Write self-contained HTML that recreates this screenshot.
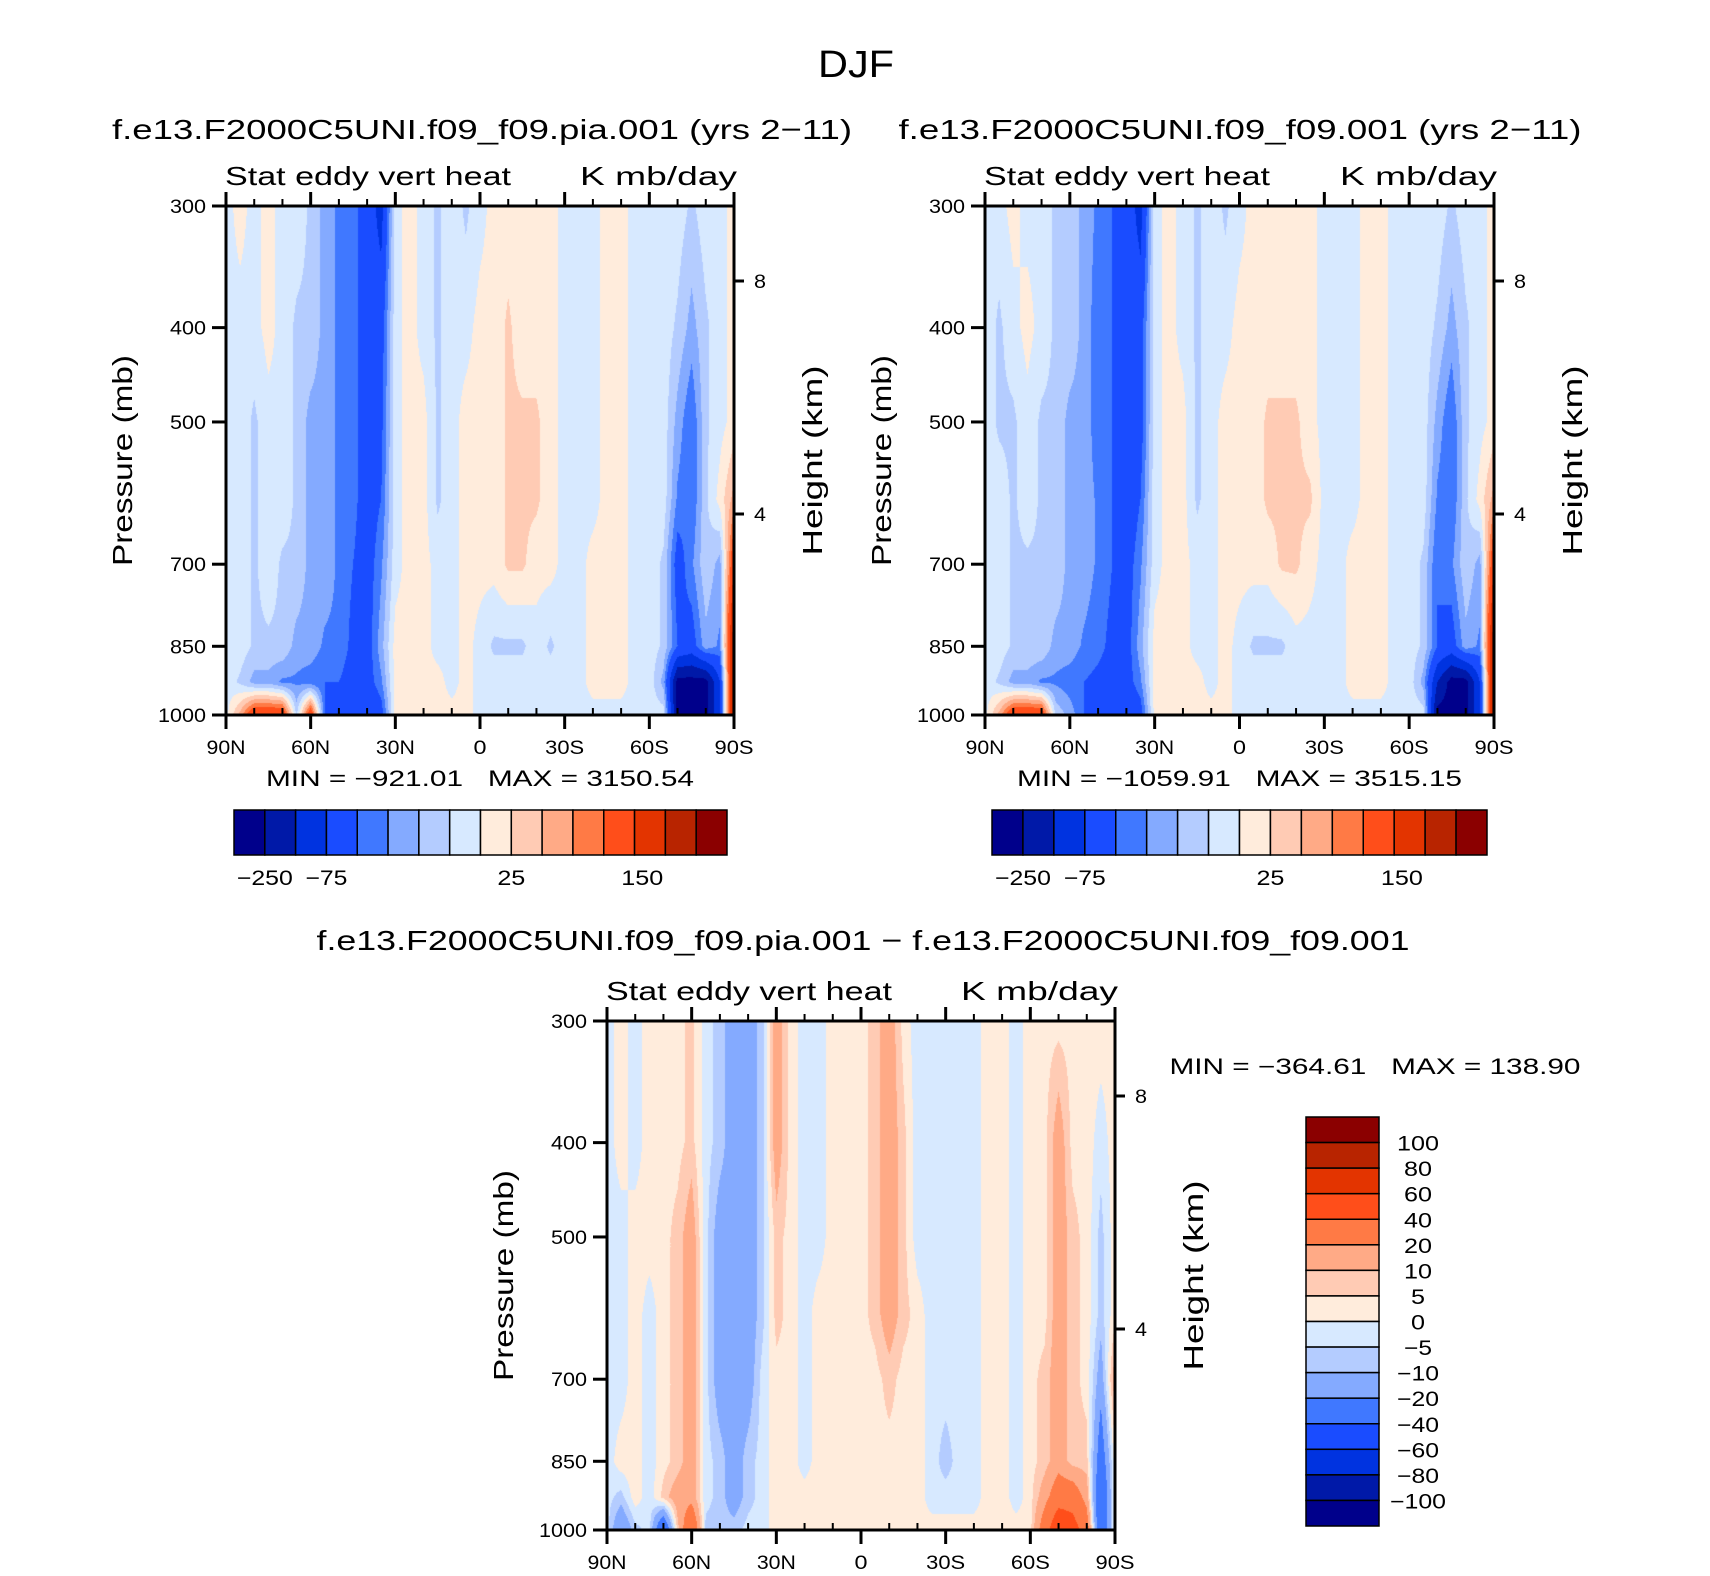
<!DOCTYPE html>
<html><head><meta charset="utf-8">
<style>
body{margin:0;background:#fff;}
#root{position:relative;width:1710px;height:1576px;overflow:hidden;background:#fff;font-family:"Liberation Sans",sans-serif;color:#000;}
canvas{position:absolute;}
svg{position:absolute;left:0;top:0;}
</style></head><body>
<div id="root">
<canvas id="c1"></canvas>
<canvas id="c2"></canvas>
<canvas id="c3"></canvas>
<svg id="ov" width="1710" height="1576"></svg>
</div>
<script>
const lats = [90,85,80,75,70,65,60,55,50,45,40,35,30,25,20,15,10,5,0,-5,-10,-15,-20,-25,-30,-35,-40,-45,-50,-55,-60,-65,-70,-75,-80,-85,-90];
const pLevels = [300,400,500,600,700,850,925,1000];
const levels1 = [-250,-200,-150,-100,-75,-50,-25,0,25,50,75,100,150,200,250];
const levels3 = [-100,-80,-60,-40,-20,-10,-5,0,5,10,20,40,60,80,100];
const colors = ["#00008b","#0019a8","#0033e0","#1a4cff","#4078ff","#84aaff","#b4ccff","#d7e9ff","#ffecdc","#ffcbb4","#ffaa86","#ff7a45","#ff4e1a","#e33400","#b82400","#8b0000"];
const cbLabels1 = ["−250","−75","25","150"];
const cbLabelIdx1 = [1,3,9,13.25];
const cbLabels3 = ["100","80","60","40","20","10","5","0","−5","−10","−20","−40","−60","−80","−100"];
const xTickLabels = ["90N","60N","30N","0","30S","60S","90S"];
const xTickLats = [90,60,30,0,-30,-60,-90];
const pTicks = [300,400,500,700,850,1000];
const hTicks = [8,4];
const minmax1 = "MIN = −921.01   MAX = 3150.54";
const minmax2 = "MIN = −1059.91   MAX = 3515.15";
const minmax3 = "MIN = −364.61   MAX = 138.90";

const field1 = [
[-10,10,-10,10,-10,-10,-30,-60,-80,-90,-120,-170,-10,10,-10,-30,-10,-30,-10,10,10,10,10,10,-10,-10,-10,10,10,-10,-10,-10,-10,-30,-10,-10,10],
[-10,-10,-10,10,-10,-30,-30,-60,-80,-90,-120,-120,-10,10,-10,-30,-10,-10,10,10,30,10,10,10,-10,-10,-10,10,10,-10,-10,-10,-30,-60,-30,-10,10],
[-10,-10,-30,-10,-10,-30,-60,-60,-80,-90,-120,-110,-10,10,10,-30,-10,10,10,10,30,30,30,10,-10,-10,-10,10,10,-10,-10,-10,-60,-100,-30,-10,10],
[-10,-10,-30,-10,-10,-30,-60,-60,-80,-90,-120,-100,-10,10,10,-30,-10,10,10,10,30,30,30,10,-10,-10,-10,10,10,-10,-10,-10,-80,-100,-30,10,60],
[-10,-10,-30,-10,-30,-30,-60,-60,-80,-100,-120,-80,-10,10,10,-10,-10,10,10,10,30,30,10,10,-10,-10,10,10,10,-10,-10,-30,-120,-80,-30,-60,150],
[-10,-10,-30,-30,-30,-60,-60,-80,-80,-110,-120,-60,10,10,10,-10,-10,10,-10,-30,-30,-30,-10,-30,-10,-10,10,10,10,-10,-10,-30,-100,-120,-60,-80,250],
[-10,-30,-60,-60,-80,-80,-90,-100,-100,-120,-120,-80,10,10,10,10,-10,10,-10,-10,-10,-10,-10,-10,-10,-10,10,10,10,-10,-10,-60,-270,-270,-270,-150,250],
[-10,60,150,150,150,-30,150,-100,-120,-150,-150,-120,10,10,10,10,10,10,-10,-10,-10,-10,-10,-10,-10,-10,-10,-10,-10,-10,-10,-10,-270,-270,-270,-150,250]
];
const field2 = [
[-10,-10,10,-10,-10,-30,-30,-60,-80,-100,-120,-170,-10,10,-10,-30,-10,-30,-10,10,10,10,10,10,-10,-10,-10,10,10,-10,-10,-10,-10,-30,-10,-10,10],
[-10,-30,-10,10,-10,-30,-30,-60,-90,-100,-120,-120,-10,10,-10,-30,-10,-10,10,10,10,10,10,10,-10,-10,-10,10,10,-10,-10,-10,-30,-60,-30,-10,10],
[-10,-30,-30,-10,-30,-30,-60,-60,-90,-100,-130,-120,-10,10,10,-30,-10,10,10,10,30,30,30,10,-10,-10,-10,10,10,-10,-10,-10,-60,-100,-30,-10,10],
[-10,-10,-30,-10,-30,-30,-60,-60,-80,-100,-130,-100,-10,10,10,-30,-10,10,10,10,30,30,30,30,-10,-10,-10,10,10,-10,-10,-10,-80,-100,-30,10,60],
[-10,-10,-30,-30,-30,-30,-60,-60,-80,-100,-120,-80,-10,10,10,-10,-10,10,10,10,10,30,30,10,-10,-10,10,10,10,-10,-10,-30,-100,-80,-30,-60,150],
[-10,-10,-30,-30,-30,-60,-60,-80,-90,-110,-120,-60,10,10,10,-10,-10,10,-10,-30,-30,-30,-10,-10,-10,-10,10,10,10,-10,-10,-30,-100,-120,-60,-80,250],
[-10,-30,-60,-60,-80,-80,-90,-100,-110,-120,-120,-80,10,10,10,10,-10,10,-10,-10,-10,-10,-10,-10,-10,-10,10,10,10,-10,-10,-60,-200,-270,-270,-150,250],
[-10,60,150,150,150,-30,-60,-100,-120,-150,-150,-120,10,10,10,10,10,10,-10,-10,-10,-10,-10,-10,-10,-10,-10,-10,-10,-10,-10,-10,-270,-270,-270,-150,250]
];
const field3 = [
[-3,3,-3,3,3,3,7,-3,-7,-15,-15,-7,15,3,-3,-3,3,3,3,7,15,3,-3,-3,-3,-3,-3,3,3,-3,3,3,3,3,3,3,3],
[-3,3,-3,3,3,3,7,-3,-7,-15,-15,-7,15,3,-3,-3,3,3,3,7,15,7,-3,-3,-3,-3,-3,3,3,-3,3,3,15,3,3,-3,3],
[-3,-3,3,3,3,7,15,-3,-15,-15,-15,-7,7,3,-3,-3,3,3,3,7,15,7,-3,-3,-3,-3,-3,3,3,-3,3,3,15,7,3,-7,3],
[-3,-3,3,-3,3,7,15,-3,-15,-15,-15,-7,7,3,-3,3,3,3,3,7,15,7,3,-3,-3,-3,-3,3,3,-3,3,3,15,7,3,-7,3],
[-3,-3,3,-3,3,7,15,-3,-15,-15,-15,-3,3,3,-3,3,3,3,3,3,7,3,3,-3,-3,-3,-3,3,3,-3,3,7,15,7,3,-15,15],
[-3,3,3,-3,3,7,15,-3,-7,-15,-7,-3,3,3,-3,3,3,3,3,3,3,3,3,-3,-7,-3,-3,3,3,-3,3,7,15,7,7,-30,3],
[-3,-7,3,-3,7,15,15,-3,-7,-15,-7,-3,3,3,3,3,3,3,3,3,3,3,3,-3,-3,-3,-3,3,3,-3,3,15,30,30,15,-40,3],
[-3,-20,-7,-3,-40,7,40,-7,-7,-7,-3,-3,3,3,3,3,3,3,3,3,3,3,3,3,3,3,3,3,3,3,3,30,60,50,30,-40,3]
];

const panels = [
 {id:'c1', x0:226, x1:734, y0:206, y1:715, field:field1, levels:levels1},
 {id:'c2', x0:985, x1:1494, y0:206, y1:715, field:field2, levels:levels1},
 {id:'c3', x0:607, x1:1115, y0:1021, y1:1530, field:field3, levels:levels3}
];
function hex(c){return [parseInt(c.slice(1,3),16),parseInt(c.slice(3,5),16),parseInt(c.slice(5,7),16)];}
const rgb = colors.map(hex);
const lnP = pLevels.map(Math.log);
const L0=Math.log(300), L1=Math.log(1000);
function xOf(P,lat){return P.x0+(90-lat)/180*(P.x1-P.x0);}
function yOf(P,p){return P.y0+(Math.log(p)-L0)/(L1-L0)*(P.y1-P.y0);}

panels.forEach(P=>{
  const cv=document.getElementById(P.id);
  const W=Math.round(P.x1-P.x0), H=Math.round(P.y1-P.y0);
  cv.width=W; cv.height=H; cv.style.left=P.x0+'px'; cv.style.top=P.y0+'px';
  const ctx=cv.getContext('2d'); const img=ctx.createImageData(W,H);
  const nL=lats.length;
  for(let j=0;j<H;j++){
    const lp=L0+(j+0.5)/H*(L1-L0);
    let r=0; while(r<pLevels.length-2 && lnP[r+1]<lp) r++;
    const fy=Math.min(1,Math.max(0,(lp-lnP[r])/(lnP[r+1]-lnP[r])));
    for(let i=0;i<W;i++){
      const lat=90-(i+0.5)/W*180;
      const gi=(90-lat)/180*(nL-1);
      const c=Math.min(nL-2,Math.floor(gi)); const fx=gi-c;
      const f=P.field;
      const v=(f[r][c]*(1-fx)+f[r][c+1]*fx)*(1-fy)+(f[r+1][c]*(1-fx)+f[r+1][c+1]*fx)*fy;
      let k=0; while(k<P.levels.length && v>=P.levels[k]) k++;
      const col=rgb[k]; const o=(j*W+i)*4;
      img.data[o]=col[0];img.data[o+1]=col[1];img.data[o+2]=col[2];img.data[o+3]=255;
    }
  }
  ctx.putImageData(img,0,0);
});

const NS='http://www.w3.org/2000/svg';
const ov=document.getElementById('ov');
function line(x1,y1,x2,y2,w,name){
  const l=document.createElementNS(NS,'line');
  l.setAttribute('x1',x1);l.setAttribute('y1',y1);l.setAttribute('x2',x2);l.setAttribute('y2',y2);
  l.setAttribute('stroke','#000');l.setAttribute('stroke-width',w);
  
  
  ov.appendChild(l);
}
function text(x,y,s,size,anchor,name,len,rot){
  const t=document.createElementNS(NS,'text');
  t.setAttribute('x',x);t.setAttribute('y',y);t.setAttribute('font-size',size);
  t.setAttribute('text-anchor',anchor);t.setAttribute('font-family','Liberation Sans, sans-serif');
  t.setAttribute('xml:space','preserve');t.style.whiteSpace='pre';
  if(len){t.setAttribute('textLength',len);t.setAttribute('lengthAdjust','spacingAndGlyphs');}
  if(rot) t.setAttribute('transform','rotate(-90 '+x+' '+y+')');
  t.textContent=s;
  
  
  ov.appendChild(t);
}
function rect(x,y,w,h,fill,name){
  const r=document.createElementNS(NS,'rect');
  r.setAttribute('x',x);r.setAttribute('y',y);r.setAttribute('width',w);r.setAttribute('height',h);
  r.setAttribute('fill',fill);r.setAttribute('stroke','#000');r.setAttribute('stroke-width',1.5);
  
  
  ov.appendChild(r);
}
text(856,77,'DJF',38,'middle','season-title',76);
text(482,139,'f.e13.F2000C5UNI.f09_f09.pia.001 (yrs 2−11)',28,'middle','panel1-title',740);
text(1240,139,'f.e13.F2000C5UNI.f09_f09.001 (yrs 2−11)',28,'middle','panel2-title',683);
text(863,950,'f.e13.F2000C5UNI.f09_f09.pia.001 − f.e13.F2000C5UNI.f09_f09.001',28,'middle','panel3-title',1093);
const minmax=[minmax1,minmax2,minmax3];
panels.forEach((P,n)=>{
  const pre='panel'+(n+1)+'-';
  rect(P.x0,P.y0,P.x1-P.x0,P.y1-P.y0,'none',pre+'frame');
  ov.lastChild.setAttribute('stroke-width',3);
  for(let lat=90;lat>=-90;lat-=10){
    const x=xOf(P,lat); const major=lat%30===0;
    if(major){line(x,P.y1,x,P.y1+14,3,pre+'x-major-tick');line(x,P.y0,x,P.y0-14,3,pre+'x-top-major-tick');}
    else{line(x,P.y1,x,P.y1-7,2,pre+'x-minor-tick');line(x,P.y0,x,P.y0-7,2,pre+'x-top-minor-tick');}
  }
  xTickLats.forEach((lat,k)=>text(xOf(P,lat),P.y1+39,xTickLabels[k],19,'middle',pre+'x-tick-label',xTickLabels[k].length*13));
  pTicks.forEach(p=>{const y=yOf(P,p);const s=String(p);line(P.x0,y,P.x0-14,y,3,pre+'y-tick');text(P.x0-20,y+7,s,19,'end',pre+'y-tick-label',s.length*12);});
  hTicks.forEach(h=>{const y=P.y0+(h===8?75:308);line(P.x1,y,P.x1+10,y,3,pre+'height-tick');text(P.x1+20,y+7,String(h),19,'start',pre+'height-tick-label',12);});
  const cy=(P.y0+P.y1)/2;
  text(P.x0-94,cy,'Pressure (mb)',28,'middle',pre+'y-axis-title',211,true);
  text(P.x1+88,cy,'Height (km)',28,'middle',pre+'height-axis-title',190,true);
  text(P.x0-1,P.y0-21,'Stat eddy vert heat',26,'start',pre+'left-subtitle',286);
  text(P.x1+3,P.y0-21,'K mb/day',26,'end',pre+'right-subtitle',157);
});
[[234,727],[992,1487]].forEach((cb,n)=>{
  const pre='colorbar'+(n+1)+'-';
  const w=(cb[1]-cb[0])/16;
  colors.forEach((c,k)=>rect(cb[0]+k*w,810,w,45,c,pre+'box'));
  cbLabels1.forEach((s,k)=>text(cb[0]+cbLabelIdx1[k]*w,885,s,21,'middle',pre+'label',s.length*14));
  text((panels[n].x0+panels[n].x1)/2,786,minmax[n],22,'middle','panel'+(n+1)+'-minmax',n===0?428:445);
});
{
  const x0=1306,x1=1379,y0=1117,y1=1526,h=(y1-y0)/16;
  for(let k=0;k<16;k++) rect(x0,y0+k*h,x1-x0,h,colors[15-k],'colorbar3-box');
  cbLabels3.forEach((s,k)=>text(1418,y0+(k+1)*h+8,s,21,'middle','colorbar3-label',s.length*14));
  text(1375,1074,minmax3,22,'middle','panel3-minmax',411);
}
</script>
</body></html>
